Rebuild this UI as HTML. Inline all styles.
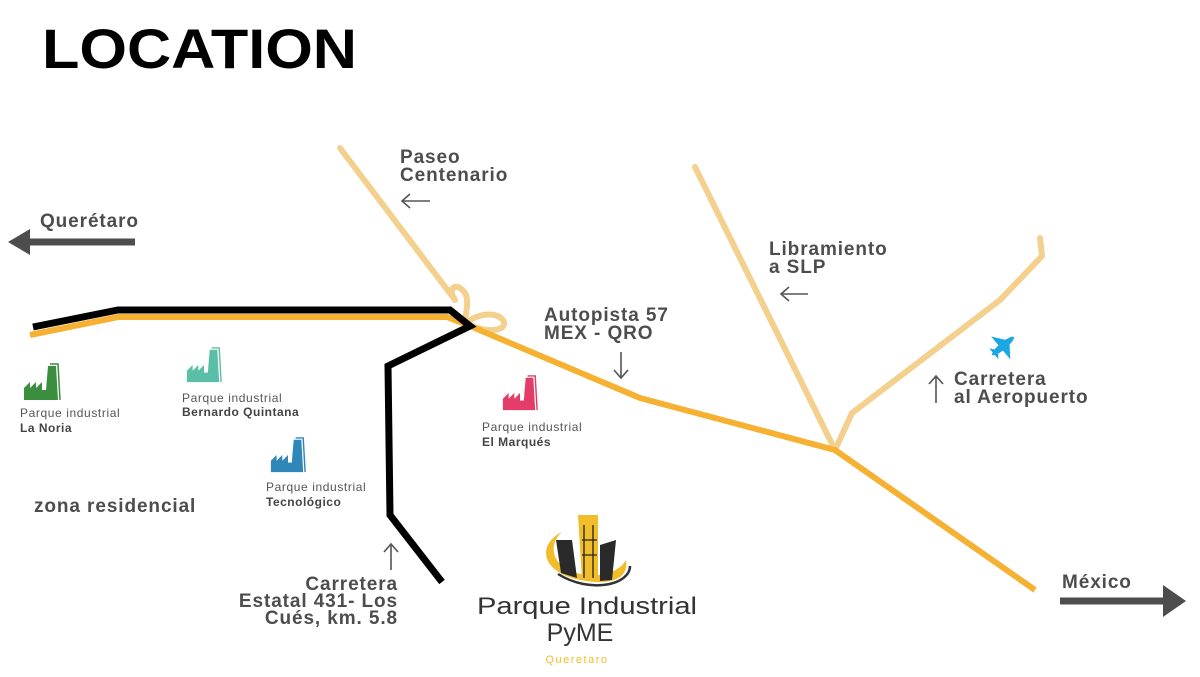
<!DOCTYPE html>
<html><head><meta charset="utf-8"><style>
html,body{margin:0;padding:0;background:#fff;}
svg{display:block;}
text{font-family:"Liberation Sans",Arial,sans-serif;}
.lb{font-weight:bold;fill:#4d4d4d;font-size:19px;letter-spacing:0.9px;}
.sm{fill:#555;font-size:12px;letter-spacing:0.6px;}
.smb{fill:#444;font-size:12px;font-weight:bold;letter-spacing:0.5px;}
</style></head><body>
<svg width="1200" height="677" viewBox="0 0 1200 677">
<defs>
<symbol id="fac" viewBox="0 0 40 40">
<path d="M2 38 L2 26 L8 20 L8 26 L14 20 L14 26 L20 20 L20 28 L24 28 L26 4 L34 4 L36 38 Z"/>
<path d="M28 2 L36 2 L38 38" fill="none" stroke="currentColor" stroke-width="1.5"/>
</symbol>
</defs>
<text x="42" y="68" font-size="56" font-weight="bold" fill="#000" textLength="315" lengthAdjust="spacingAndGlyphs">LOCATION</text>

<g fill="none" stroke="#f4d08e" stroke-width="6" stroke-linecap="round" stroke-linejoin="round">
<path d="M340 148 L455 300 C445 285 460 282 466 295 C470 308 462 318 468 322 C480 312 500 312 504 322 C506 332 485 332 472 326"/>
<path d="M695 167 L835 450"/>
<path d="M1040 238 L1042 256 L1000 300 L852 413 L835 450"/>
</g>
<path d="M30 335 L118 317 L447 317 L470 326 L640 398 L835 450 L1035 590" fill="none" stroke="#f6b133" stroke-width="6" stroke-linejoin="round"/>
<path d="M33 327 L118 310 L450 310 L470 326 L388 366 L390 515 L442 582" fill="none" stroke="#000" stroke-width="7" stroke-linejoin="miter"/>

<path d="M135 242 L28 242" stroke="#4d4d4d" stroke-width="7"/>
<polygon points="8,242 30,229 30,255" fill="#4d4d4d"/>
<path d="M1060 601 L1165 601" stroke="#4d4d4d" stroke-width="7"/>
<polygon points="1186,601 1163,585 1163,617" fill="#4d4d4d"/>

<text x="40" y="227" class="lb">Querétaro</text>
<text x="1062" y="588" class="lb">México</text>
<text x="400" y="163" class="lb">Paseo</text>
<text x="400" y="181" class="lb">Centenario</text>
<text x="769" y="255" class="lb">Libramiento</text>
<text x="769" y="273" class="lb">a SLP</text>
<text x="544" y="321" class="lb">Autopista 57</text>
<text x="544" y="339" class="lb">MEX - QRO</text>
<text x="954" y="385" class="lb">Carretera</text>
<text x="954" y="403" class="lb">al Aeropuerto</text>
<text x="34" y="512" class="lb">zona residencial</text>
<text x="398" y="590" class="lb" text-anchor="end">Carretera</text>
<text x="398" y="607" class="lb" text-anchor="end">Estatal 431- Los</text>
<text x="398" y="624" class="lb" text-anchor="end">Cués, km. 5.8</text>

<g stroke="#555" stroke-width="1.6" fill="none">
<path d="M402 201 L430 201 M410 194 L402 201 L410 208"/>
<path d="M781 294 L808 294 M789 287 L781 294 L789 301"/>
<path d="M621 352 L621 378 M614 370 L621 378 L628 370"/>
<path d="M936 403 L936 376 M929 384 L936 376 L943 384"/>
<path d="M391 570 L391 544 M384 552 L391 544 L398 552"/>
</g>

<g transform="translate(1003,346) rotate(50)" fill="#1ba7e1">
<ellipse cx="0" cy="0" rx="3.5" ry="14"/>
<polygon points="-15,3 15,3 3,-6 -3,-6"/>
<polygon points="-7,12 7,12 2,8 -2,8"/>
</g>

<use href="#fac" x="22" y="362" width="40" height="40" fill="#3a8f3f" color="#3a8f3f"/>
<text x="20" y="417" class="sm">Parque industrial</text>
<text x="20" y="432" class="smb">La Noria</text>
<use href="#fac" x="184" y="346" width="40" height="38" fill="#5bbfa8" color="#5bbfa8"/>
<text x="182" y="402" class="sm">Parque industrial</text>
<text x="182" y="416" class="smb">Bernardo Quintana</text>
<use href="#fac" x="268" y="436" width="40" height="38" fill="#2f86b8" color="#2f86b8"/>
<text x="266" y="491" class="sm">Parque industrial</text>
<text x="266" y="506" class="smb">Tecnológico</text>
<use href="#fac" x="500" y="374" width="40" height="38" fill="#e33c68" color="#e33c68"/>
<text x="482" y="431" class="sm">Parque industrial</text>
<text x="482" y="446" class="smb">El Marqués</text>

<g>
<path d="M562 532 C535 545 540 578 595 582 C622 583 628 572 626 560 C618 575 590 580 568 570 C550 560 550 542 562 532 Z" fill="#f2bd2a"/>
<path d="M558 574 C590 594 630 585 630 566" fill="none" stroke="#333" stroke-width="2.5"/>
<polygon points="556,540 572,540 577,578 561,573" fill="#2a2a2a"/>
<polygon points="578,515 598,515 598,580 582,580" fill="#f2bd2a"/>
<path d="M584 525 L584 578 M593 525 L593 578 M582 540 L597 540 M582 555 L597 555" stroke="#222" stroke-width="1.3"/>
<polygon points="600,545 616,540 612,580 600,581" fill="#2a2a2a"/>
<text x="587" y="614" text-anchor="middle" font-size="24" fill="#333" font-family="'DejaVu Sans',sans-serif" textLength="220" lengthAdjust="spacingAndGlyphs">Parque Industrial</text>
<text x="580" y="641" text-anchor="middle" font-size="25" fill="#333" font-family="'DejaVu Sans',sans-serif">PyME</text>
<text x="577" y="663" text-anchor="middle" font-size="11" fill="#f2bd2a" letter-spacing="1.5">Queretaro</text>
</g>
</svg>
</body></html>
